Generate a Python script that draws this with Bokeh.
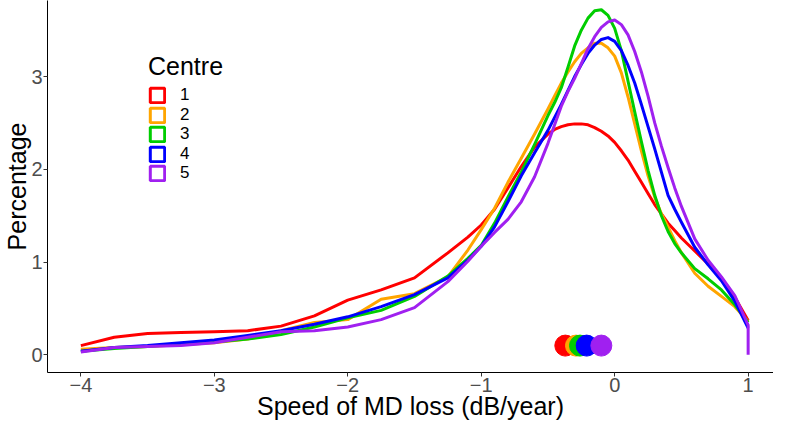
from bokeh.plotting import figure
from bokeh.models import Range1d, FixedTicker, Legend, LegendItem
from bokeh.embed import file_html
from bokeh.resources import INLINE

# ---- data ----
x_grid = [-4.0, -3.75, -3.5, -3.25, -3.0, -2.75, -2.5, -2.25, -2.0, -1.75, -1.5, -1.25,
          -1.1, -1.0, -0.9, -0.8, -0.7, -0.6,
          -0.5, -0.45, -0.4, -0.35, -0.3, -0.25, -0.2, -0.15, -0.1, -0.05, 0.0,
          0.05, 0.1, 0.15, 0.2, 0.25, 0.3, 0.35, 0.4, 0.45, 0.5,
          0.6, 0.7, 0.8, 0.9, 1.0]

centre1 = [0.10, 0.19, 0.23, 0.24, 0.25, 0.26, 0.31, 0.42, 0.59, 0.70, 0.83, 1.10,
           1.27, 1.40, 1.57, 1.80, 2.03, 2.24,
           2.38, 2.43, 2.46, 2.48, 2.49, 2.49, 2.48, 2.45, 2.41, 2.36, 2.29,
           2.20, 2.10, 1.98, 1.86, 1.74, 1.62, 1.52, 1.42, 1.34, 1.26,
           1.12, 0.98, 0.82, 0.62, 0.37]
centre2 = [0.06, 0.08, 0.09, 0.11, 0.13, 0.17, 0.26, 0.35, 0.38, 0.60, 0.66, 0.84,
           1.13, 1.35, 1.58, 1.86, 2.12, 2.38,
           2.65, 2.79, 2.93, 3.05, 3.16, 3.25, 3.31, 3.36, 3.36, 3.31, 3.22,
           3.04, 2.78, 2.49, 2.20, 1.93, 1.70, 1.52, 1.38, 1.23, 1.10,
           0.88, 0.74, 0.63, 0.52, 0.36]
centre3 = [0.04, 0.07, 0.09, 0.12, 0.14, 0.17, 0.22, 0.30, 0.40, 0.48, 0.63, 0.85,
           1.04, 1.18, 1.42, 1.70, 1.97, 2.27,
           2.58, 2.72, 2.88, 3.10, 3.33, 3.50, 3.63, 3.71, 3.72, 3.66, 3.52,
           3.28, 2.95, 2.62, 2.30, 1.99, 1.72, 1.50, 1.33, 1.20, 1.10,
           0.93, 0.82, 0.70, 0.54, 0.35]
centre4 = [0.04, 0.08, 0.10, 0.13, 0.16, 0.21, 0.26, 0.33, 0.41, 0.52, 0.65, 0.83,
           1.02, 1.17, 1.38, 1.65, 1.93, 2.18,
           2.42, 2.56, 2.70, 2.85, 3.00, 3.13, 3.25, 3.34, 3.40, 3.42, 3.38,
           3.28, 3.12, 2.93, 2.70, 2.46, 2.22, 1.97, 1.72, 1.57, 1.43,
           1.16, 0.97, 0.80, 0.58, 0.29]
centre5 = [0.03, 0.08, 0.09, 0.10, 0.13, 0.19, 0.25, 0.26, 0.30, 0.38, 0.51, 0.79,
           1.01, 1.17, 1.32, 1.46, 1.65, 1.92,
           2.28, 2.48, 2.68, 2.84, 2.98, 3.14, 3.30, 3.43, 3.53, 3.59, 3.61,
           3.56, 3.45, 3.27, 3.05, 2.79, 2.50, 2.25, 2.02, 1.80, 1.60,
           1.25, 1.02, 0.84, 0.64, 0.32, 0.0]
centre5_x = x_grid + [1.0]

centre_labels = ["1", "2", "3", "4", "5"]
centre_colors = ["#FF0000", "#FFA500", "#00CD00", "#0000FF", "#A020F0"]
median_x = [-0.37, -0.29, -0.26, -0.21, -0.10]
median_y = [0.10, 0.10, 0.10, 0.10, 0.10]

x_ticks = [-4, -3, -2, -1, 0, 1]
y_ticks = [0, 1, 2, 3]

FONT = "Liberation Sans"
NAN = float("nan")

p = figure(width=773, height=422, output_backend="svg", toolbar_location=None,
           x_range=Range1d(-4.25, 1.19), y_range=Range1d(-0.19, 3.82),
           min_border_left=0, min_border_right=0, min_border_top=0, min_border_bottom=0)
p.outline_line_color = None
p.xgrid.grid_line_color = None
p.ygrid.grid_line_color = None
p.background_fill_color = "white"
p.border_fill_color = "white"

series_y = [centre1, centre2, centre3, centre4, centre5]
series_x = [x_grid, x_grid, x_grid, x_grid, centre5_x]
for xs, ys, c in zip(series_x, series_y, centre_colors):
    p.line(xs, ys, line_color=c, line_width=3, line_join="round")

for mx, my, c in zip(median_x, median_y, centre_colors):
    p.scatter([mx], [my], size=21, fill_color=c, line_color=c)

# legend with hollow squares (one small legend per key, packed tightly like ggplot)
LEG_X = 101
LEG_Y0 = 267
LEG_STEP = 19.6
for k, (lab, c) in enumerate(zip(centre_labels, centre_colors)):
    r = p.rect(x=[NAN], y=[NAN], width=1, height=1, fill_color=None,
               line_color=c, line_width=3)
    leg = Legend(items=[LegendItem(label=lab, renderers=[r])],
                 location=(LEG_X, LEG_Y0 - k * LEG_STEP),
                 label_text_font=FONT, label_text_font_size="17px", label_text_color="black",
                 glyph_width=18, glyph_height=18, label_height=16, spacing=0,
                 label_standoff=14, padding=0, margin=0, border_line_color=None,
                 background_fill_alpha=0)
    if k == 0:
        leg.title = "Centre"
        leg.title_text_font = FONT
        leg.title_text_font_size = "25px"
        leg.title_text_font_style = "normal"
        leg.title_text_color = "black"
        leg.title_standoff = 4
    p.add_layout(leg)

for ax in (p.xaxis, p.yaxis):
    ax.axis_line_color = "black"
    ax.axis_line_width = 1
    ax.major_tick_line_color = "#333333"
    ax.major_tick_in = 0
    ax.major_tick_out = 4
    ax.minor_tick_line_color = None
    ax.major_label_text_font = FONT
    ax.major_label_text_font_size = "20px"
    ax.major_label_text_color = "#4D4D4D"
    ax.axis_label_text_font = FONT
    ax.axis_label_text_font_size = "25px"
    ax.axis_label_text_font_style = "normal"
    ax.axis_label_text_color = "black"
    ax.axis_label_standoff = -3
    ax.major_label_standoff = 1

p.xaxis.ticker = FixedTicker(ticks=x_ticks)
p.yaxis.ticker = FixedTicker(ticks=y_ticks)
p.xaxis.axis_label = "Speed of MD loss (dB/year)"
p.yaxis.axis_label = "Percentage"

open("out.html", "w").write(file_html(p, INLINE))
